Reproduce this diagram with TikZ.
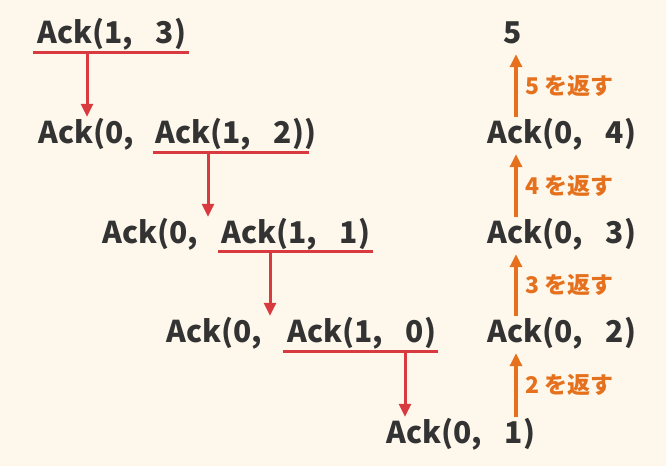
\documentclass[tikz,border=0pt]{standalone}
\usepackage{fontspec}
\setmainfont{Noto Sans CJK JP}
\usetikzlibrary{arrows.meta}
\definecolor{bgc}{HTML}{FEF8EC}
\definecolor{txt}{HTML}{333333}
\definecolor{redc}{HTML}{D83A40}
\definecolor{orc}{HTML}{E5711E}
\newcommand\ackcomma{,\hspace{23pt}}
\tikzset{
  term/.style={anchor=base west, inner sep=2pt, text height=24pt, text depth=9pt,
    font=\fontsize{30}{30}\selectfont\bfseries, text=txt},
  uline/.style={draw=redc, line width=3pt},
  downarr/.style={draw=redc, line width=3pt, -{Triangle[length=13pt,width=12pt]}},
  uparr/.style={draw=orc, line width=3.2pt, -{Triangle[length=13pt,width=12pt]}},
  retlbl/.style={right=8pt, inner sep=0pt, text=orc, font=\fontsize{23}{23}\selectfont\bfseries}
}
\begin{document}
\begin{tikzpicture}[x=1pt,y=-1pt]
\fill[bgc] (0,0) rectangle (666,466);
\useasboundingbox (0,0) rectangle (666,466);
% left column
\node[term] (r1) at (35,43) {Ack(1\ackcomma 3)};
\node[term] (r2a) at (36,143) {Ack(0\ackcomma};
\node[term] (r2b) at (153,143) {Ack(1\ackcomma 2))};
\node[term] (r3a) at (100,243) {Ack(0\ackcomma};
\node[term] (r3b) at (219,243) {Ack(1\ackcomma 1)};
\node[term] (r4a) at (164,342) {Ack(0\ackcomma};
\node[term] (r4b) at (285,342) {Ack(1\ackcomma 0)};
\node[term] (r5) at (384,443) {Ack(0\ackcomma 1)};
% right column
\node[term] (q5) at (501,43) {5};
\node[term] (q4) at (485,143) {Ack(0\ackcomma 4)};
\node[term] (q3) at (485,243) {Ack(0\ackcomma 3)};
\node[term] (q2) at (485,342) {Ack(0\ackcomma 2)};
% underlines
\coordinate (u1l) at (33,52);  \coordinate (u1r) at (189,52);
\coordinate (u2l) at (153,152); \coordinate (u2r) at (309,152);
\coordinate (u3l) at (218,251); \coordinate (u3r) at (373,251);
\coordinate (u4l) at (283,351); \coordinate (u4r) at (438,351);
\draw[uline] (u1l) -- (u1r);
\draw[uline] (u2l) -- (u2r);
\draw[uline] (u3l) -- (u3r);
\draw[uline] (u4l) -- (u4r);
% red arrows
\coordinate (d1) at (87,52);
\coordinate (d2) at (208,152);
\coordinate (d3) at (270,251);
\coordinate (d4) at (405,351);
\draw[downarr] (d1) -- (d1 |- r2a.north);
\draw[downarr] (d2) -- (d2 |- r3a.north);
\draw[downarr] (d3) -- (d3 |- r4a.north);
\draw[downarr] (d4) -- (d4 |- r5.north);
% orange arrows
\coordinate (ox) at (516,0);
\draw[uparr] (ox |- r5.north) -- (ox |- q2.south) node[midway, retlbl] {2 を返す};
\draw[uparr] (ox |- q2.north) -- (ox |- q3.south) node[midway, retlbl] {3 を返す};
\draw[uparr] (ox |- q3.north) -- (ox |- q4.south) node[midway, retlbl] {4 を返す};
\draw[uparr] (ox |- q4.north) -- (ox |- q5.south) node[midway, retlbl] {5 を返す};
\end{tikzpicture}
\end{document}
